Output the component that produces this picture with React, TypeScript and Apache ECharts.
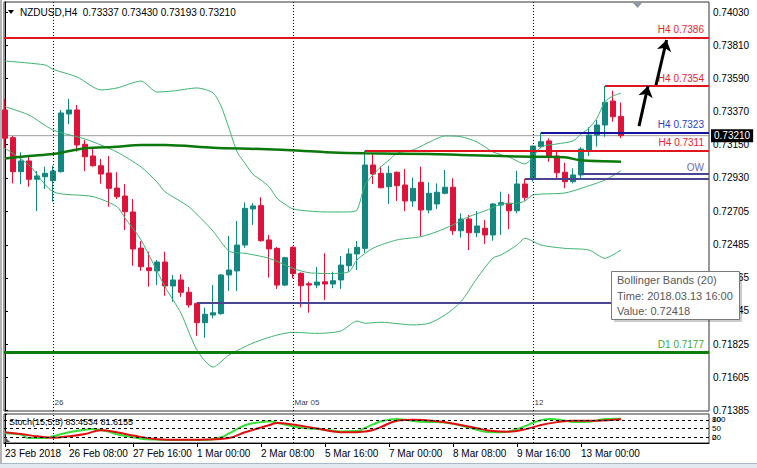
import React, { useEffect, useRef } from 'react';
import * as echarts from 'echarts';

// [open, close, low, high] for each H4 bar, 23 Feb 2018 00:00 -> 13 Mar 2018 20:00
const ohlc: number[][] = [
  [0.73381, 0.73193, 0.73128, 0.73454],
  [0.73197, 0.72971, 0.72893, 0.73208],
  [0.72971, 0.73042, 0.72887, 0.73099],
  [0.73042, 0.72920, 0.72871, 0.73075],
  [0.72920, 0.72942, 0.72709, 0.72975],
  [0.72937, 0.72960, 0.72856, 0.73004],
  [0.72911, 0.72975, 0.72771, 0.73010],
  [0.72971, 0.73361, 0.72965, 0.73381],
  [0.73354, 0.73381, 0.73286, 0.73454],
  [0.73381, 0.73148, 0.73104, 0.73414],
  [0.73153, 0.73070, 0.72975, 0.73181],
  [0.73075, 0.73010, 0.73004, 0.73126],
  [0.73010, 0.72955, 0.72891, 0.73055],
  [0.72962, 0.72860, 0.72738, 0.73075],
  [0.72862, 0.72804, 0.72789, 0.72967],
  [0.72809, 0.72705, 0.72583, 0.72889],
  [0.72703, 0.72457, 0.72346, 0.72789],
  [0.72463, 0.72339, 0.72311, 0.72510],
  [0.72332, 0.72313, 0.72206, 0.72439],
  [0.72311, 0.72370, 0.72217, 0.72384],
  [0.72370, 0.72211, 0.72146, 0.72439],
  [0.72211, 0.72251, 0.72106, 0.72284],
  [0.72251, 0.72169, 0.72138, 0.72289],
  [0.72169, 0.72085, 0.72067, 0.72204],
  [0.72095, 0.71967, 0.71880, 0.72100],
  [0.71967, 0.72023, 0.71867, 0.72067],
  [0.72018, 0.72033, 0.71996, 0.72217],
  [0.72027, 0.72284, 0.72020, 0.72290],
  [0.72284, 0.72317, 0.72178, 0.72543],
  [0.72311, 0.72483, 0.72178, 0.72643],
  [0.72483, 0.72727, 0.72465, 0.72767],
  [0.72723, 0.72743, 0.72616, 0.72761],
  [0.72745, 0.72512, 0.72505, 0.72800],
  [0.72517, 0.72457, 0.72266, 0.72550],
  [0.72461, 0.72217, 0.72191, 0.72470],
  [0.72217, 0.72399, 0.72210, 0.72405],
  [0.72468, 0.72293, 0.72262, 0.72475],
  [0.72295, 0.72213, 0.72069, 0.72302],
  [0.72226, 0.72217, 0.72033, 0.72239],
  [0.72217, 0.72237, 0.72196, 0.72337],
  [0.72239, 0.72224, 0.72118, 0.72428],
  [0.72224, 0.72246, 0.72196, 0.72306],
  [0.72251, 0.72350, 0.72191, 0.72410],
  [0.72346, 0.72424, 0.72306, 0.72461],
  [0.72424, 0.72468, 0.72317, 0.72510],
  [0.72461, 0.73015, 0.72432, 0.73110],
  [0.73015, 0.72955, 0.72889, 0.73088],
  [0.72960, 0.72864, 0.72860, 0.73004],
  [0.72871, 0.72960, 0.72756, 0.73010],
  [0.72967, 0.72878, 0.72776, 0.72972],
  [0.72882, 0.72776, 0.72709, 0.72989],
  [0.72776, 0.72860, 0.72738, 0.72931],
  [0.72900, 0.72716, 0.72543, 0.73004],
  [0.72716, 0.72827, 0.72694, 0.72900],
  [0.72756, 0.72834, 0.72723, 0.72893],
  [0.72827, 0.72867, 0.72820, 0.72982],
  [0.72867, 0.72578, 0.72550, 0.72927],
  [0.72578, 0.72656, 0.72532, 0.72694],
  [0.72656, 0.72565, 0.72450, 0.72683],
  [0.72565, 0.72610, 0.72535, 0.72709],
  [0.72594, 0.72550, 0.72490, 0.72650],
  [0.72550, 0.72756, 0.72512, 0.72762],
  [0.72749, 0.72765, 0.72550, 0.72838],
  [0.72761, 0.72711, 0.72588, 0.72822],
  [0.72711, 0.72889, 0.72694, 0.72977],
  [0.72889, 0.72800, 0.72778, 0.72924],
  [0.72920, 0.73141, 0.72904, 0.73145],
  [0.73137, 0.73170, 0.73126, 0.73230],
  [0.73175, 0.73075, 0.73037, 0.73193],
  [0.73075, 0.72964, 0.72927, 0.73110],
  [0.72967, 0.72904, 0.72860, 0.73030],
  [0.72904, 0.72949, 0.72893, 0.72993],
  [0.72949, 0.73121, 0.72920, 0.73133],
  [0.73115, 0.73214, 0.73075, 0.73266],
  [0.73214, 0.73281, 0.73137, 0.73314],
  [0.73281, 0.73432, 0.73203, 0.73540],
  [0.73440, 0.73336, 0.73303, 0.73509],
  [0.73337, 0.73210, 0.73193, 0.73430],
];

// Bollinger Bands (20) read at bar indices: [barIndex, price]
const bbUpper: number[][] = [
  [0, 0.73706], [5, 0.7368], [6, 0.73651], [9, 0.736], [12, 0.73514], [14, 0.73527], [17, 0.73573],
  [19, 0.735], [21, 0.73507], [24, 0.73527], [26, 0.73494], [27, 0.73407], [28, 0.73259], [29, 0.73104],
  [30, 0.73026], [31, 0.72953], [32, 0.72915], [33, 0.72871], [34, 0.72794], [35, 0.72754], [36, 0.72723],
  [38, 0.72709], [40, 0.72703], [43, 0.72703], [44, 0.72716], [45, 0.72882], [46, 0.72949], [47, 0.73004],
  [48, 0.73048], [49, 0.73093], [51, 0.73115], [53, 0.73166], [55, 0.73208], [57, 0.73203], [59, 0.73168],
  [61, 0.73102], [63, 0.73068], [65, 0.73022], [66, 0.73068], [67, 0.73135], [69, 0.73155], [71, 0.73175],
  [72, 0.73221], [73, 0.73261], [74, 0.73327], [75, 0.73436], [76, 0.73474], [77, 0.73492],
];
const bbMiddle: number[][] = [
  [0, 0.73403], [3, 0.73347], [6, 0.73248], [10, 0.73188], [12, 0.73148], [14, 0.73101], [17, 0.73002],
  [19, 0.72902], [20, 0.72838], [23, 0.72736], [26, 0.72576], [28, 0.72443], [30, 0.72428], [33, 0.72395],
  [36, 0.72328], [38, 0.72299], [41, 0.72294], [43, 0.72306], [44, 0.72384], [46, 0.72462], [49, 0.72517],
  [52, 0.72539], [54, 0.72572], [56, 0.72617], [58, 0.72672], [60, 0.7271], [62, 0.72754], [64, 0.72761],
  [65, 0.72776], [66, 0.72816], [70, 0.72829], [72, 0.7286], [75, 0.72915], [77, 0.72977],
];
const bbLower: number[][] = [
  [0, 0.73126], [3, 0.73015], [6, 0.72838], [11, 0.72805], [14, 0.72738], [15, 0.72663], [17, 0.72517],
  [20, 0.72206], [22, 0.72029], [24, 0.71785], [26, 0.71672], [28, 0.71752], [31, 0.71832], [34, 0.71885],
  [36, 0.71903], [39, 0.71896], [42, 0.71912], [44, 0.71978], [45, 0.71963], [47, 0.7197], [51, 0.71952],
  [53, 0.71963], [55, 0.72018], [57, 0.72107], [59, 0.72262], [61, 0.72397], [62, 0.72417], [64, 0.72483],
  [65, 0.72528], [67, 0.72483], [70, 0.72461], [73, 0.7245], [75, 0.72395], [76, 0.72418], [77, 0.7245],
];
// long moving average (thick green)
const maLong: number[][] = [
  [0, 0.73059], [3, 0.73075], [6, 0.73088], [8, 0.73108], [10, 0.73126], [14, 0.73137], [17, 0.73148],
  [20, 0.73148], [26, 0.7313], [32, 0.73121], [37, 0.7311], [41, 0.73098], [45, 0.73093], [53, 0.73088],
  [57, 0.73082], [62, 0.73075], [66, 0.7307], [70, 0.73066], [72, 0.73046], [77, 0.73037],
];
// Stochastic (15,5,5)
const stochMain: number[][] = [
  [0, 34], [2, 29], [3, 17], [5, 17], [6, 23], [8, 37], [10, 46], [11, 48], [13, 39], [14, 30], [17, 15],
  [19, 12], [22, 10], [25, 10], [27, 20], [28, 33], [30, 61], [32, 72], [33, 75], [34, 70], [36, 57],
  [38, 50], [40, 46], [42, 40], [44, 41], [45, 52], [46, 64], [47, 75], [49, 83], [50, 80], [52, 73],
  [54, 72], [56, 66], [58, 53], [60, 39], [62, 37], [63, 40], [65, 58], [66, 70], [68, 83], [70, 77],
  [71, 72], [73, 73], [75, 83], [77, 83.45],
];
const stochSignal: number[][] = [
  [0, 37], [2, 31], [4, 23], [6, 18], [8, 23], [10, 31], [12, 44], [14, 37], [16, 26], [19, 13], [22, 11],
  [25, 12], [28, 17], [30, 37], [33, 61], [34, 69], [36, 64], [39, 50], [41, 40], [43, 37], [45, 40],
  [46, 45], [47, 55], [49, 77], [51, 80], [54, 75], [56, 67], [59, 51], [61, 41], [63, 39], [65, 47],
  [67, 62], [69, 72], [71, 77], [74, 77], [77, 81.62],
];

const priceTicks = [0.7403, 0.7381, 0.7359, 0.7337, 0.7315, 0.7293, 0.72705, 0.72485, 0.72265, 0.72045, 0.71825, 0.71605, 0.71385];
const stochTicks = [20, 50, 80];
const stochEdgeTicks = [0, 100];
const stochLevels = [20, 50, 80];
const timeLabelIndex = [0, 8, 16, 24, 32, 40, 48, 56, 64, 72];
const timeLabels = ['23 Feb 2018', '26 Feb 08:00', '27 Feb 16:00', '1 Mar 00:00', '2 Mar 08:00', '5 Mar 16:00', '7 Mar 00:00', '8 Mar 08:00', '9 Mar 16:00', '13 Mar 00:00'];
const separatorIndex = [6, 36, 66];
const separatorLabels = ['26', 'Mar 05', '12'];

const levelPrices = [0.7386, 0.7354, 0.7323, 0.7311, 0.72957, 0.72922, 0.721, 0.7177];
const levelStart = [-0.125, 75, 67, 45, 72, 65, 24, -0.125];
const levelLabels = ['H4 0.7386', 'H4 0.7354', 'H4 0.7323', 'H4 0.7311', 'OW', '', '', 'D1 0.7177'];
const bidPrice = 0.7321;

const arrowFrom = [[79.25, 0.73274], [81.375, 0.73547]];
const arrowTo = [[80.375, 0.7354], [82.7, 0.73846]];

const X_MIN = -0.125;
const X_MAX = 88;
const Y_MIN = 0.7138;
const Y_MAX = 0.740985;

const TEAL = '#13867F';
const CRIMSON = '#DC143C';
const FONT = 'Liberation Sans';

const levelStyles = [
  { color: '#E0161E', width: 2, text: '#E3262C' },
  { color: '#E0161E', width: 2, text: '#E3262C' },
  { color: '#14149E', width: 2, text: '#2C3EC2' },
  { color: '#E0161E', width: 2, text: '#E3262C' },
  { color: '#4A4590', width: 2, text: '#6C6CAE' },
  { color: '#4A4590', width: 2, text: '#6C6CAE' },
  { color: '#4A4590', width: 2, text: '#6C6CAE' },
  { color: '#0B7D0B', width: 3, text: '#3CA83C' },
];

function buildOption(): any {
  const levelLines = levelPrices.map((p, k) => [
    {
      coord: [levelStart[k], p],
      lineStyle: { color: levelStyles[k].color, width: levelStyles[k].width, type: 'solid' },
      label: {
        show: levelLabels[k] !== '',
        formatter: levelLabels[k],
        position: 'insideEndTop',
        distance: [5, k === 4 ? 1 : 3],
        color: levelStyles[k].text,
        fontSize: 10,
        fontFamily: FONT,
      },
    },
    { coord: [X_MAX, p] },
  ]);
  const sepLines = separatorIndex.map((i) => ({
    xAxis: i,
    lineStyle: { color: '#000', width: 1, type: [1, 2] },
    label: { show: false },
  }));
  const lineBase = { type: 'line', showSymbol: false, silent: true, xAxisIndex: 0, yAxisIndex: 0 };

  return {
    animation: false,
    backgroundColor: '#ffffff',
    grid: [
      { left: 4, top: 2, width: 705, height: 409, show: true, borderColor: '#333', borderWidth: 1, backgroundColor: '#fff' },
      { left: 4, top: 414, width: 705, height: 29, show: true, borderColor: '#333', borderWidth: 1, backgroundColor: '#fff' },
    ],
    xAxis: [
      { type: 'value', gridIndex: 0, min: X_MIN, max: X_MAX, show: false },
      {
        type: 'value', gridIndex: 1, min: X_MIN, max: X_MAX, position: 'bottom',
        axisLine: { show: true, lineStyle: { color: '#000' } },
        axisTick: { show: true, customValues: timeLabelIndex, length: 4, lineStyle: { color: '#000' } },
        axisLabel: {
          show: true, customValues: timeLabelIndex, align: 'left', margin: 5,
          fontSize: 10, fontFamily: FONT, color: '#000',
          formatter: (v: number) => timeLabels[timeLabelIndex.indexOf(Math.round(v))] ?? '',
        },
        splitLine: { show: false },
      },
    ],
    yAxis: [
      {
        type: 'value', gridIndex: 0, position: 'right', min: Y_MIN, max: Y_MAX, scale: true,
        axisLine: { show: true, lineStyle: { color: '#000' } },
        axisTick: { show: true, customValues: priceTicks, length: 3, lineStyle: { color: '#000' } },
        axisLabel: {
          customValues: priceTicks, margin: 4, fontSize: 10, fontFamily: FONT, color: '#000',
          formatter: (v: number) => v.toFixed(5),
        },
        splitLine: { show: false },
      },
      {
        type: 'value', gridIndex: 1, position: 'right', min: 0, max: 100,
        axisLine: { show: true, lineStyle: { color: '#000' } },
        axisTick: { show: true, customValues: [0, 20, 50, 80, 100], length: 2, lineStyle: { color: '#000' } },
        axisLabel: { customValues: stochTicks, margin: 3, fontSize: 8, fontFamily: FONT, color: '#000' },
        splitLine: { show: false },
      },
      {
        type: 'value', gridIndex: 1, position: 'right', min: 0, max: 100, offset: 0,
        axisLine: { show: false },
        axisTick: { show: false },
        axisLabel: {
          customValues: stochEdgeTicks, margin: 3, fontSize: 8, fontFamily: FONT, color: '#000',
          showMinLabel: true, showMaxLabel: true,
          formatter: (v: number) => (v === 100 ? '{dn|100}' : '{up|0}'),
          rich: {
            dn: { fontSize: 8, fontFamily: FONT, color: '#000', padding: [11, 0, 0, 0] },
            up: { fontSize: 8, fontFamily: FONT, color: '#000', padding: [0, 0, 11, 0] },
          },
        },
        splitLine: { show: false },
      },
    ],
    series: [
      {
        ...lineBase,
        name: 'bid',
        data: [[X_MIN, bidPrice], [X_MAX, bidPrice]],
        z: 1,
        lineStyle: { color: '#9c9c9c', width: 1 },
        endLabel: {
          show: true, formatter: bidPrice.toFixed(5), backgroundColor: '#000', color: '#fff',
          fontSize: 10, fontFamily: FONT, padding: [2, 3, 1, 3], distance: 2,
        },
      },
      {
        type: 'candlestick',
        name: 'NZDUSD',
        xAxisIndex: 0, yAxisIndex: 0,
        data: ohlc.map((d, i) => [i, d[0], d[1], d[2], d[3]]),
        encode: { x: 0, y: [1, 2, 3, 4] },
        barWidth: 5,
        z: 3,
        silent: true,
        itemStyle: { color: TEAL, color0: CRIMSON, borderColor: TEAL, borderColor0: CRIMSON, borderWidth: 1 },
        markLine: {
          silent: true, symbol: ['none', 'none'], animation: false,
          data: [...sepLines, ...levelLines],
        },
      },
      { ...lineBase, name: 'BB upper', data: bbUpper, smooth: 0.25, z: 4, lineStyle: { color: '#3CB371', width: 1 } },
      { ...lineBase, name: 'BB middle', data: bbMiddle, smooth: 0.25, z: 4, lineStyle: { color: '#3CB371', width: 1 } },
      { ...lineBase, name: 'BB lower', data: bbLower, smooth: 0.25, z: 4, lineStyle: { color: '#3CB371', width: 1 } },
      { ...lineBase, name: 'MA', data: maLong, smooth: 0.3, z: 4, lineStyle: { color: '#0A780A', width: 2.5 } },
      {
        type: 'lines', coordinateSystem: 'cartesian2d', xAxisIndex: 0, yAxisIndex: 0, silent: true, z: 6,
        symbol: ['none', 'arrow'], symbolSize: 11,
        lineStyle: { color: '#000', width: 3, opacity: 1, curveness: 0 },
        data: arrowFrom.map((f, k) => ({ coords: [f, arrowTo[k]] })),
      },
      {
        type: 'scatter', xAxisIndex: 0, yAxisIndex: 0, silent: true, z: 6,
        data: separatorIndex.map((i) => [i, Y_MIN]),
        symbolSize: 1, itemStyle: { color: 'rgba(0,0,0,0)' },
        label: {
          show: true, position: [2, -12], fontSize: 8, fontFamily: FONT, color: '#000',
          formatter: (p: any) => separatorLabels[p.dataIndex],
        },
      },
      {
        type: 'line', xAxisIndex: 1, yAxisIndex: 1, showSymbol: false, silent: true, name: 'Stoch main',
        data: stochMain, smooth: 0.4, z: 3, lineStyle: { color: '#33E033', width: 2 },
        markLine: {
          silent: true, symbol: ['none', 'none'], animation: false, label: { show: false },
          data: [
            ...stochLevels.map((v) => ({ yAxis: v, lineStyle: { color: '#000', width: 1, type: [3, 3] } })),
            ...separatorIndex.map((i) => ({ xAxis: i, lineStyle: { color: '#000', width: 1, type: [1, 2] } })),
          ],
        },
      },
      {
        type: 'line', xAxisIndex: 1, yAxisIndex: 1, showSymbol: false, silent: true, name: 'Stoch signal',
        data: stochSignal, smooth: 0.4, z: 4, lineStyle: { color: '#E01010', width: 2 },
      },
    ],
    graphic: [
      { type: 'rect', z: 100, silent: true, shape: { x: 0, y: 0, width: 2, height: 464 }, style: { fill: '#b4b4b4' } },
      { type: 'rect', z: 100, silent: true, shape: { x: 0, y: 463, width: 757, height: 5 }, style: { fill: '#e3e9f0' } },
      { type: 'rect', z: 100, silent: true, shape: { x: 0, y: 463, width: 757, height: 1 }, style: { fill: '#a9b9ca' } },
      { type: 'polygon', z: 100, silent: true, shape: { points: [[8, 10], [14, 10], [11, 14]] }, style: { fill: '#000' } },
      {
        type: 'text', z: 100, silent: true, x: 20, y: 12,
        style: { text: 'NZDUSD,H4  0.73337 0.73430 0.73193 0.73210', fill: '#000', fontSize: 10, fontFamily: FONT, verticalAlign: 'middle' },
      },
      { type: 'polygon', z: 100, silent: true, shape: { points: [[633, 3], [642, 3], [637.5, 8]] }, style: { fill: '#8d99a5' } },
      {
        type: 'text', z: 100, silent: true, x: 9, y: 422,
        style: { text: 'Stoch(15,5,5) 83.4534 81.6155', fill: '#000', fontSize: 9, fontFamily: FONT, verticalAlign: 'middle' },
      },
      { type: 'polygon', z: 100, silent: true, shape: { points: [[5, 437], [5, 442], [10, 442]] }, style: { fill: '#555' } },
      { type: 'rect', z: 200, silent: true, shape: { x: 614, y: 274, width: 128, height: 48 }, style: { fill: 'rgba(0,0,0,0.2)' } },
      { type: 'rect', z: 201, silent: true, shape: { x: 611.5, y: 271.5, width: 128, height: 48 }, style: { fill: '#ffffff', stroke: '#7a7a7a', lineWidth: 1 } },
      { type: 'text', z: 202, silent: true, x: 617, y: 280, style: { text: 'Bollinger Bands (20)', fill: '#585858', fontSize: 11, fontFamily: FONT, verticalAlign: 'middle' } },
      { type: 'text', z: 202, silent: true, x: 617, y: 295.5, style: { text: 'Time: 2018.03.13 16:00', fill: '#585858', fontSize: 11, fontFamily: FONT, verticalAlign: 'middle' } },
      { type: 'text', z: 202, silent: true, x: 617, y: 310.5, style: { text: 'Value: 0.72418', fill: '#585858', fontSize: 11, fontFamily: FONT, verticalAlign: 'middle' } },
    ],
  };
}

export default function App() {
  const ref = useRef<HTMLDivElement>(null);
  useEffect(() => {
    if (!ref.current) return;
    const chart = echarts.init(ref.current, null, { renderer: 'svg' });
    chart.setOption(buildOption());
    return () => chart.dispose();
  }, []);
  return (
    <div
      ref={ref}
      style={{ position: 'fixed', left: 0, top: 0, width: 757, height: 468, background: '#fff' }}
    />
  );
}
